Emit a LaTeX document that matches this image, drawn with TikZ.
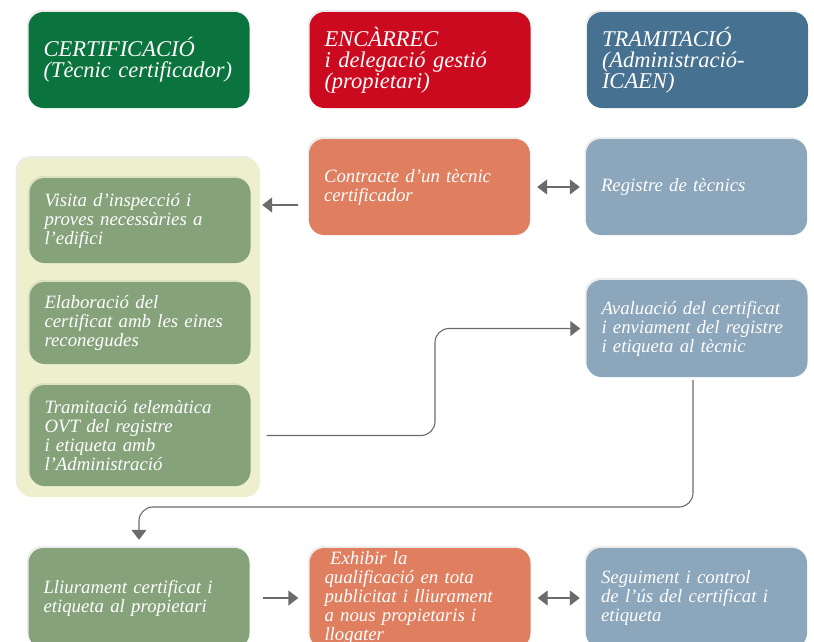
\documentclass[tikz,border=0pt]{standalone}
\usepackage{fontspec}
\setmainfont{Liberation Serif}
\usetikzlibrary{arrows.meta,shadows,calc}

\definecolor{certgreen}{HTML}{0B733D}
\definecolor{encred}{HTML}{CC0A1F}
\definecolor{tramblue}{HTML}{477190}
\definecolor{stepgreen}{HTML}{86A27B}
\definecolor{steporange}{HTML}{E07E60}
\definecolor{stepblue}{HTML}{8CA6BC}
\definecolor{panelyellow}{HTML}{EEF0CD}
\definecolor{arrowgray}{HTML}{6B6B6B}

\tikzset{
  box/.style={rectangle, rounded corners=15pt, text=white, align=left,
    inner xsep=15pt, inner ysep=3pt, text width=191pt,
    font=\itshape\fontsize{18.8}{19}\selectfont,
    drop shadow={opacity=0.15, shadow xshift=-1.5pt, shadow yshift=2pt}},
  head/.style={box, font=\itshape\fontsize{22.5}{21}\selectfont, minimum height=96pt},
  flow/.style={draw=arrowgray, line width=1.4pt,
    -{Triangle[length=10pt,width=15pt]}},
  both/.style={flow, {Triangle[length=10pt,width=15pt]}-{Triangle[length=10pt,width=15pt]}},
  link/.style={flow, line width=1.1pt, rounded corners=14pt}
}

\begin{document}
\begin{tikzpicture}[x=1pt,y=-1pt]
    \useasboundingbox (0,0) rectangle (814,641);
    % header row
    \node[head, fill=certgreen] (cert) at (139,60) {CERTIFICACIÓ\\(Tècnic certificador)};
    \node[head, fill=encred] (encar) at (420,60) {ENCÀRREC\\i delegació gestió\\(propietari)};
    \node[head, fill=tramblue] (tram) at (697.5,60) {TRAMITACIÓ\\(Administració-\\ICAEN)};
    % technician panel
    \node[rectangle, rounded corners=15pt, fill=panelyellow, minimum width=243pt, minimum height=339pt,
      drop shadow={opacity=0.15, shadow xshift=-1.5pt, shadow yshift=2pt}] (panel) at (138.5,327.5) {};
    \node[box, fill=stepgreen, minimum height=85pt] (visita) at (140,220.5) {Visita d’inspecció i\\proves necessàries a\\l’edifici};
    \node[box, fill=stepgreen, minimum height=82pt] (elab) at (140,323) {Elaboració del\\certificat amb les eines\\reconegudes};
    \node[box, fill=stepgreen, minimum height=101pt] (tramit) at (140,435.5) {Tramitació telemàtica\\OVT del registre\\i etiqueta amb\\l’Administració};
    % owner and administration
    \node[box, fill=steporange, minimum height=96pt] (contr) at (419.5,187) {Contracte d’un tècnic\\certificador};
    \node[box, fill=stepblue, minimum height=96pt] (regis) at (696.5,187) {Registre de tècnics};
    \node[box, fill=stepblue, minimum height=97pt] (aval) at (697,328.5) {Avaluació del certificat\\i enviament del registre\\i etiqueta al tècnic};
    % bottom row
    \node[box, fill=stepgreen, minimum height=100pt] (lliur) at (139,598) {Lliurament certificat i\\etiqueta al propietari};
    \node[box, fill=steporange, minimum height=100pt] (exhib) at (420,598) {\hspace{0.3em}Exhibir la\\qualificació en tota\\publicitat i lliurament\\a nous propietaris i\\llogater};
    \node[box, fill=stepblue, minimum height=100pt] (segui) at (696.5,598) {Seguiment i control\\de l’ús del certificat i\\etiqueta};
    % connectors
    \coordinate (bendA) at (435,0);
    \coordinate (bendB) at (0,507);
    \draw[flow] ($(contr.west)+(-11pt,-18pt)$) -- ($(contr.west -| panel.east)+(2pt,-18pt)$);
    \draw[both] ([xshift=7pt]contr.east) -- ([xshift=-6pt]regis.west);
    \draw[link] ([xshift=16pt]tramit.east) -- (tramit.east -| bendA) -- (aval.west -| bendA) -- ([xshift=-6pt]aval.west);
    \draw[link] ([xshift=-4pt,yshift=-3pt]aval.south) -- ([xshift=-4pt]aval.south |- bendB) -- (lliur.north |- bendB) -- ([yshift=8pt]lliur.north);
    \draw[flow] ([xshift=13pt]lliur.east) -- ([xshift=-11pt]exhib.west);
    \draw[both] ([xshift=7pt]exhib.east) -- ([xshift=-6pt]segui.west);
\end{tikzpicture}
\end{document}
